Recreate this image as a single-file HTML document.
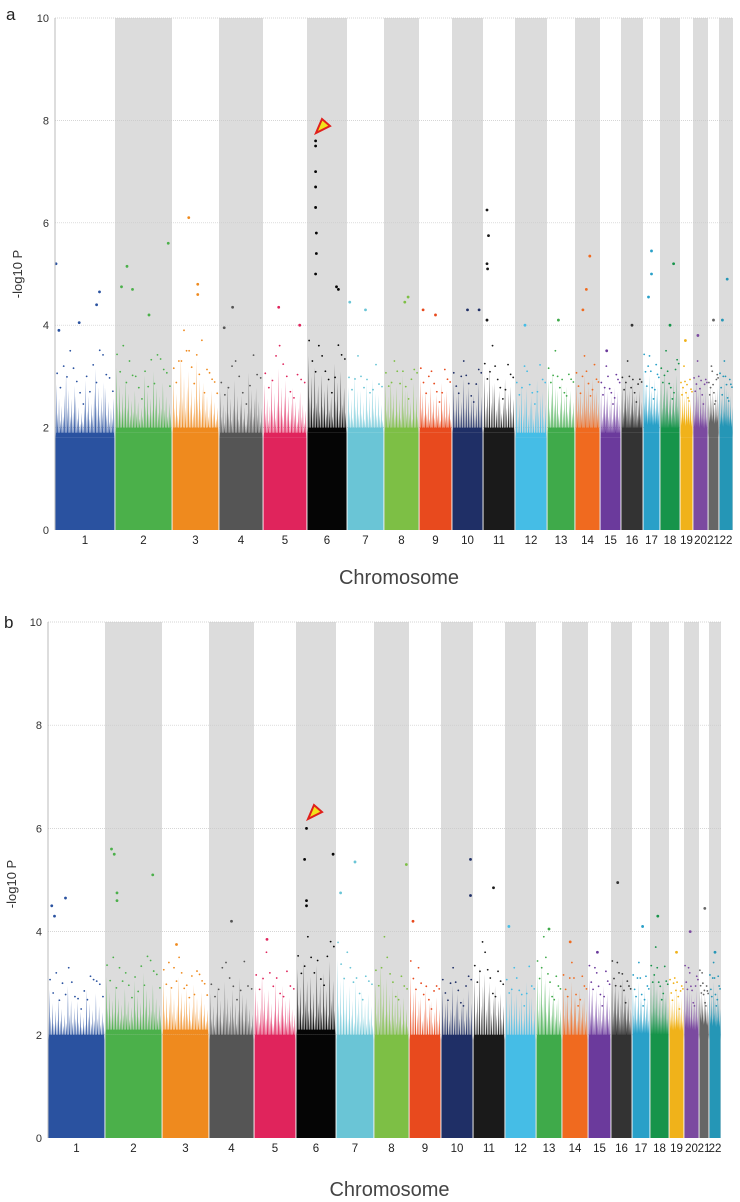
<!DOCTYPE html>
<html><head><meta charset="utf-8">
<style>
body{margin:0;background:#fff;width:740px;height:1202px;overflow:hidden;font-family:"Liberation Sans",sans-serif}
svg{display:block}
</style></head>
<body>
<svg id="chart" width="740" height="1202" viewBox="0 0 740 1202"></svg>
<script>
const chromLabels=["1","2","3","4","5","6","7","8","9","10","11","12","13","14","15","16","17","18","19","20","21","22"];
const chromColors=["#2a52a0","#4bb04a","#ef8a1e","#555555","#e0245c","#050505","#6ac5d6","#7dbf45","#e84a1e","#1f2f66","#1a1a1a","#45bde6","#3faa4a","#f06a1f","#6b3a9c","#333333","#29a0c8","#16944a","#f0b21a","#7b4aa0","#666666","#2596b6"];
const yTicks=[0,2,4,6,8,10];
// panel a
const boundsA=[55,115,172,219,263,307,347,384,419,452,483,515,547,575,600,621,643,660,680,693,708,719,733];
const baseA=[1.8,1.9,1.9,1.8,1.8,1.9,1.9,1.9,1.9,1.9,1.9,1.8,1.9,1.9,1.8,1.9,1.9,1.9,1.8,1.8,1.8,1.8];
const topsA=[[3.2,3.5,2.9,3.3,3.6,3.1],[3.6,3.3,3.0,3.4,3.5,3.2],[3.3,3.9,3.5,3.8,3.2,3.0],[3.0,3.2,3.3,2.9,3.5,3.1],[3.2,3.4,3.6,3.3,3.1,3.0],[3.9,3.6,3.4,3.2,3.7,3.5],[3.1,3.4,3.0,3.2,3.3,2.9],[3.2,3.3,3.1,3.4,3.0,3.2],[3.3,3.0,3.1,2.9,3.2,3.0],[3.2,3.0,3.3,3.1,2.9,3.2],[3.4,3.6,3.2,3.0,3.3,3.1],[3.0,3.2,3.1,2.9,3.3,3.0],[3.3,3.5,3.0,3.2,3.1,3.0],[3.2,3.0,3.4,3.1,3.3,3.0],[3.0,3.2,3.0,2.9,3.1,3.0],[3.1,3.3,3.0,3.2,2.9,3.0],[3.6,3.2,3.4,3.0,3.3,3.1],[3.3,3.5,3.1,3.0,3.2,3.4],[3.0,3.2,2.9,3.1,3.0,2.8],[3.1,3.3,3.0,3.2,2.9,3.0],[3.0,3.2,3.1,2.9,3.0,3.1],[3.2,3.0,3.3,3.1,3.0,2.9]];
const peaksA=[[[0.0,5.2],[0.05,3.9],[0.4,4.05],[0.75,4.65],[0.7,4.4]],[[0.1,4.75],[0.2,5.15],[0.3,4.7],[0.95,5.6],[0.6,4.2]],[[0.35,6.1],[0.55,4.8],[0.55,4.6]],[[0.3,4.35],[0.1,3.95]],[[0.35,4.35],[0.85,4.0]],[[0.2,7.6],[0.2,7.5],[0.2,7.0],[0.2,6.7],[0.2,6.3],[0.22,5.8],[0.22,5.4],[0.2,5.0],[0.75,4.75],[0.8,4.7]],[[0.05,4.45],[0.5,4.3]],[[0.7,4.55],[0.6,4.45]],[[0.1,4.3],[0.5,4.2]],[[0.5,4.3],[0.9,4.3]],[[0.1,6.25],[0.15,5.75],[0.1,5.2],[0.12,5.1],[0.1,4.1]],[[0.3,4.0]],[[0.4,4.1]],[[0.6,5.35],[0.45,4.7],[0.3,4.3]],[[0.3,3.5]],[[0.5,4.0]],[[0.5,5.45],[0.5,5.0],[0.3,4.55]],[[0.7,5.2],[0.5,4.0]],[[0.4,3.7]],[[0.3,3.8]],[[0.5,4.1]],[[0.6,4.9],[0.2,4.1]]];
// panel b
const boundsB=[48,105,162,209,254,296,336,374,409,441,473,505,536,562,588,611,632,650,669,684,699,709,721];
const baseB=[1.9,2.0,2.0,1.9,1.9,2.0,1.9,1.9,1.9,1.9,1.9,1.9,1.9,1.9,1.9,1.9,1.9,1.9,1.9,1.9,1.9,1.9];
const topsB=[[3.2,3.0,3.3,2.9,3.2,3.1],[3.5,3.3,3.2,3.4,3.6,3.3],[3.4,3.3,3.5,3.2,3.3,3.1],[3.1,3.3,3.4,3.2,3.5,3.0],[3.3,3.6,3.2,3.4,3.3,3.0],[3.7,3.9,3.5,3.8,3.6,3.9],[4.0,3.6,3.3,3.4,3.2,3.1],[3.4,3.9,3.5,3.3,3.2,3.0],[3.6,3.3,3.0,3.2,2.9,3.0],[3.2,3.0,3.3,3.1,3.0,3.2],[3.5,3.8,3.6,3.4,3.3,3.1],[3.2,3.3,3.1,3.0,3.4,3.0],[3.6,3.9,3.5,3.3,3.2,3.0],[3.3,3.1,3.4,3.0,3.2,3.0],[3.5,3.3,3.2,3.0,3.3,3.1],[3.6,3.4,3.2,3.5,3.1,3.0],[3.3,3.1,3.4,3.0,3.2,3.0],[3.5,3.7,3.3,3.2,3.4,3.1],[3.2,3.0,3.1,3.3,2.9,3.0],[3.5,3.3,3.2,3.1,3.0,3.2],[3.4,3.2,3.0,3.1,3.0,2.9],[3.3,3.1,3.4,3.0,3.2,3.0]];
const peaksB=[[[0.05,4.5],[0.3,4.65],[0.1,4.3]],[[0.1,5.6],[0.15,5.5],[0.2,4.75],[0.2,4.6],[0.85,5.1]],[[0.3,3.75]],[[0.5,4.2]],[[0.3,3.85]],[[0.25,6.0],[0.2,5.4],[0.25,4.6],[0.25,4.5],[0.95,5.5]],[[0.5,5.35],[0.1,4.75]],[[0.95,5.3]],[[0.1,4.2]],[[0.95,5.4],[0.95,4.7]],[[0.65,4.85]],[[0.1,4.1]],[[0.5,4.05]],[[0.3,3.8]],[[0.4,3.6]],[[0.3,4.95]],[[0.6,4.1]],[[0.4,4.3]],[[0.5,3.6]],[[0.4,4.0]],[[0.6,4.45]],[[0.5,3.6]]];

const NS="http://www.w3.org/2000/svg";
const svg=document.getElementById("chart");
function mk(tag,attrs,parent){const e=document.createElementNS(NS,tag);for(const k in attrs)e.setAttribute(k,attrs[k]);(parent||svg).appendChild(e);return e;}

function drawPanel(p){
  const g=mk("g",{});
  
  
  const y=v=>p.y0-(v/10)*(p.y0-p.y10);
  const x0=p.bounds[0],x1=p.bounds[p.bounds.length-1];
  for(let i=0;i<chromLabels.length;i++){
    if(i%2===1){
      const r=mk("rect",{x:p.bounds[i],y:y(10),width:p.bounds[i+1]-p.bounds[i],height:y(0)-y(10),fill:"#dcdcdc"},g);
      
      
    }
  }
  yTicks.forEach(t=>{
    if(t>0){const l=mk("line",{x1:x0,x2:x1,y1:y(t),y2:y(t),stroke:"#c8c8c8","stroke-width":0.7,"stroke-dasharray":"1,1"},g);
    
    }
    const tx=mk("text",{x:x0-6,y:y(t)+4,"text-anchor":"end","font-size":11,fill:"#333"},g);
    tx.textContent=t;
    
    
  });
  for(let i=0;i<chromLabels.length;i++){
    const a=p.bounds[i],b=p.bounds[i+1],w=b-a,col=chromColors[i];
    const cg=mk("g",{fill:col},g);
    
    
    mk("rect",{x:a+0.5,y:y(p.base[i]),width:w-1,height:y(0)-y(p.base[i])},cg);
    const tops=p.tops[i],n=tops.length,sw=(w-1)/n;
    let pts=[[a+0.5,y(p.base[i])]];
    for(let k=0;k<n;k++){
      const sx=a+0.5+k*sw,spikes=Math.max(3,Math.round(sw/1.5));
      for(let s=0;s<spikes;s++){
        const px=sx+(s+0.5)*sw/spikes;
        const frac=[0.75,0.35,0.55,0.25,0.45,0.3,0.6][s%7];
        const v=p.base[i]+(tops[k]-p.base[i])*frac;
        pts.push([px-0.5,y(p.base[i]+0.1)]);pts.push([px,y(v)]);pts.push([px+0.5,y(p.base[i]+0.1)]);
      }
      // sparse dots in the upper band
      const nd=Math.max(2,Math.round(sw/3));
      for(let d=0;d<nd;d++){
        const f=[0.9,0.7,1.0,0.8,0.6,0.95][(d+k)%6];
        mk("circle",{cx:sx+(d+0.5)*sw/nd,cy:y(p.base[i]+(tops[k]-p.base[i])*f),r:0.9},cg);
      }
    }
    pts.push([b-0.5,y(p.base[i])]);
    mk("polygon",{points:pts.map(q=>q.join(",")).join(" ")},cg);
    p.peaks[i].forEach(pk=>{
      const c=mk("circle",{cx:a+1+pk[0]*(w-2),cy:y(pk[1]),r:1.4},cg);
      
      
    });
    const lb=mk("text",{x:(a+b)/2,y:p.y0+14,"text-anchor":"middle","font-size":11.5,fill:"#222"},g);
    lb.textContent=chromLabels[i];
    
    
  }
  const ax=mk("line",{x1:x0,x2:x0,y1:y(10),y2:y(0),stroke:"#bbb","stroke-width":1},g);
  
  
  const ar=mk("polygon",{points:`${p.arrow[0]},${p.arrow[1]} ${p.arrow[0]+6},${p.arrow[1]-14} ${p.arrow[0]+14},${p.arrow[1]-7}`,fill:"#f2e21a",stroke:"#e0201c","stroke-width":2},g);
  
  
  const yl=mk("text",{x:0,y:0,transform:`translate(${p.ylx},${p.ylY}) rotate(-90)`,"text-anchor":"middle","font-size":13,fill:"#333"},g);
  yl.textContent="-log10 P";
  
  
  const xl=mk("text",{x:(x0+x1)/2+5,y:p.xlY,"text-anchor":"middle","font-size":20,fill:"#444"},g);
  xl.textContent="Chromosome";
  
  
  const pl=mk("text",{x:p.lx,y:p.ly,"font-size":17,fill:"#222"},g);
  pl.textContent=p.id;
  
  
}
drawPanel({id:"a",bounds:boundsA,base:baseA,tops:topsA,peaks:peaksA,y0:530,y10:18,arrow:[316,133],ylx:22,ylY:274,xlY:584,lx:6,ly:20});
drawPanel({id:"b",bounds:boundsB,base:baseB,tops:topsB,peaks:peaksB,y0:1138,y10:622,arrow:[308,819],ylx:16,ylY:884,xlY:1196,lx:4,ly:628});
</script>
</body></html>
